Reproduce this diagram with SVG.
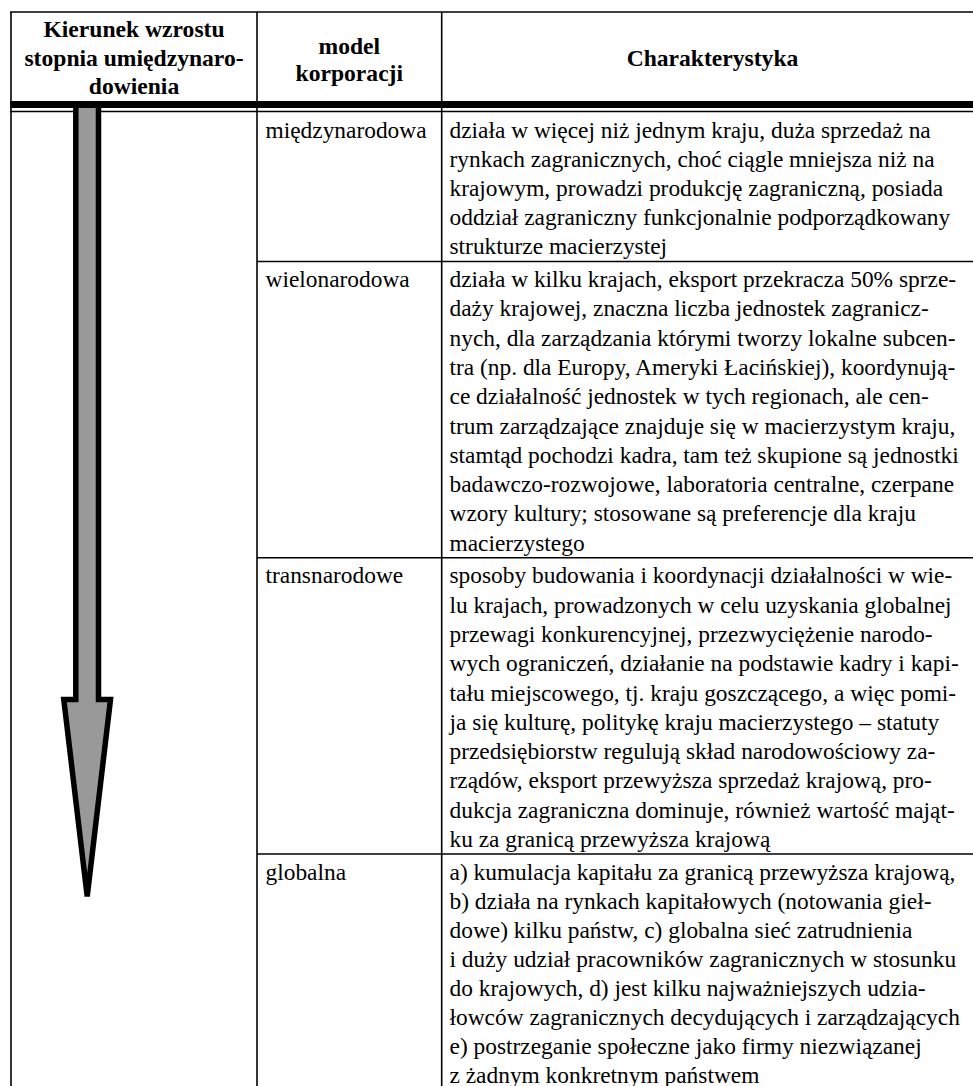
<svg xmlns="http://www.w3.org/2000/svg" width="973" height="1086" viewBox="0 0 973 1086">
<style>
.ln{stroke:#000;stroke-width:1.6;fill:none}
.h{font-family:"Liberation Serif","Times New Roman",serif;font-weight:bold;font-size:23.6px;fill:#000;text-anchor:middle}
.t{font-family:"Liberation Serif","Times New Roman",serif;font-size:23.4px;fill:#000}
</style>
<rect x="0" y="0" width="973" height="1086" fill="#fff"/>
<g id="grid">
<line class="ln" x1="10.2" y1="12" x2="985" y2="12"/>
<line class="ln" x1="11" y1="12" x2="11" y2="1090"/>
<line class="ln" x1="257" y1="12" x2="257" y2="1090"/>
<line class="ln" x1="441.7" y1="12" x2="441.7" y2="1090"/>
<line class="ln" x1="10.2" y1="111.5" x2="985" y2="111.5"/>
<line class="ln" x1="257" y1="261.5" x2="985" y2="261.5"/>
<line class="ln" x1="257" y1="557.7" x2="985" y2="557.7"/>
<line class="ln" x1="257" y1="854" x2="985" y2="854"/>
</g>
<g id="arrow">
<polygon points="75.8,104 98.5,104 98.5,699.5 110.5,699.5 87.2,896.5 63.8,699.5 75.8,699.5" fill="#999" stroke="#000" stroke-width="5.5"/>
</g>
<rect x="10.2" y="101" width="975" height="7" fill="#000"/>
<g id="header">
<text class="h" x="134" y="37.3">Kierunek wzrostu</text>
<text class="h" x="134" y="65.7">stopnia umiędzynaro-</text>
<text class="h" x="134" y="94.3">dowienia</text>
<text class="h" x="349.3" y="54.3">model</text>
<text class="h" x="349.3" y="81">korporacji</text>
<text class="h" x="712.5" y="66">Charakterystyka</text>
</g>
<g id="row-miedzynarodowa">
<text class="t" x="265.5" y="138.3">międzynarodowa</text>
<text class="t" x="449.5" y="138.3">działa w więcej niż jednym kraju, duża sprzedaż na</text>
<text class="t" x="449.5" y="167.3">rynkach zagranicznych, choć ciągle mniejsza niż na</text>
<text class="t" x="449.5" y="196.3">krajowym, prowadzi produkcję zagraniczną, posiada</text>
<text class="t" x="449.5" y="225.3">oddział zagraniczny funkcjonalnie podporządkowany</text>
<text class="t" x="449.5" y="254.3">strukturze macierzystej</text>
</g>
<g id="row-wielonarodowa">
<text class="t" x="265.5" y="287">wielonarodowa</text>
<text class="t" x="449.5" y="287">działa w kilku krajach, eksport przekracza 50% sprze-</text>
<text class="t" x="449.5" y="316.3">daży krajowej, znaczna liczba jednostek zagranicz-</text>
<text class="t" x="449.5" y="345.6">nych, dla zarządzania którymi tworzy lokalne subcen-</text>
<text class="t" x="449.5" y="374.9">tra (np. dla Europy, Ameryki Łacińskiej), koordynują-</text>
<text class="t" x="449.5" y="404.2">ce działalność jednostek w tych regionach, ale cen-</text>
<text class="t" x="449.5" y="433.5">trum zarządzające znajduje się w macierzystym kraju,</text>
<text class="t" x="449.5" y="462.8">stamtąd pochodzi kadra, tam też skupione są jednostki</text>
<text class="t" x="449.5" y="492.1">badawczo-rozwojowe, laboratoria centralne, czerpane</text>
<text class="t" x="449.5" y="521.4">wzory kultury; stosowane są preferencje dla kraju</text>
<text class="t" x="449.5" y="550.7">macierzystego</text>
</g>
<g id="row-transnarodowe">
<text class="t" x="265.5" y="583.3">transnarodowe</text>
<text class="t" x="449.5" y="583.3">sposoby budowania i koordynacji działalności w wie-</text>
<text class="t" x="449.5" y="612.6">lu krajach, prowadzonych w celu uzyskania globalnej</text>
<text class="t" x="449.5" y="641.9">przewagi konkurencyjnej, przezwyciężenie narodo-</text>
<text class="t" x="449.5" y="671.2">wych ograniczeń, działanie na podstawie kadry i kapi-</text>
<text class="t" x="449.5" y="700.5">tału miejscowego, tj. kraju goszczącego, a więc pomi-</text>
<text class="t" x="449.5" y="729.8">ja się kulturę, politykę kraju macierzystego – statuty</text>
<text class="t" x="449.5" y="759.1">przedsiębiorstw regulują skład narodowościowy za-</text>
<text class="t" x="449.5" y="788.4">rządów, eksport przewyższa sprzedaż krajową, pro-</text>
<text class="t" x="449.5" y="817.7">dukcja zagraniczna dominuje, również wartość mająt-</text>
<text class="t" x="449.5" y="847">ku za granicą przewyższa krajową</text>
</g>
<g id="row-globalna">
<text class="t" x="265.5" y="880">globalna</text>
<text class="t" x="449.5" y="880">a) kumulacja kapitału za granicą przewyższa krajową,</text>
<text class="t" x="449.5" y="909">b) działa na rynkach kapitałowych (notowania gieł-</text>
<text class="t" x="449.5" y="938">dowe) kilku państw, c) globalna sieć zatrudnienia</text>
<text class="t" x="449.5" y="967">i duży udział pracowników zagranicznych w stosunku</text>
<text class="t" x="449.5" y="996">do krajowych, d) jest kilku najważniejszych udzia-</text>
<text class="t" x="449.5" y="1025">łowców zagranicznych decydujących i zarządzających</text>
<text class="t" x="449.5" y="1054">e) postrzeganie społeczne jako firmy niezwiązanej</text>
<text class="t" x="449.5" y="1083">z żadnym konkretnym państwem</text>
</g>
</svg>
